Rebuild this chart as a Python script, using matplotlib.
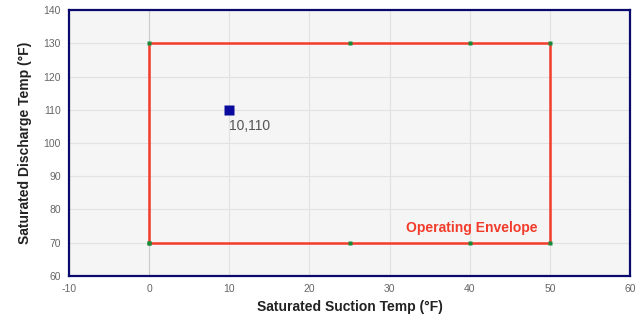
import matplotlib
matplotlib.use('Agg')
import matplotlib.pyplot as plt

# envelope vertices (suction, discharge)
env_x = [0, 0, 25, 40, 50, 50, 40, 25, 0]
env_y = [70, 130, 130, 130, 130, 70, 70, 70, 70]
pt_x = [10]
pt_y = [110]
pt_label = '10,110'
xticks = list(range(-10, 61, 10))
yticks = list(range(60, 141, 10))

plt.rcParams['font.family'] = ['Liberation Sans', 'DejaVu Sans']
plt.rcParams['axes.unicode_minus'] = False

fig = plt.figure(figsize=(6.39, 3.16), dpi=100)
ax = fig.add_axes([0.108, 0.127, 0.878, 0.841])
ax.set_facecolor('#f4f5f4')

ax.set_xlim(-10, 60)
ax.set_ylim(60, 140)
ax.set_xticks(xticks)
ax.set_yticks(yticks)
ax.grid(True, color='#e2e2e2', lw=0.8)
ax.axvline(0, color='#cccccc', lw=0.8, zorder=1)
ax.set_axisbelow(True)
ax.tick_params(length=0, labelsize=7.5, colors='#666666', pad=6)

for s in ax.spines.values():
    s.set_color('#0a0a6e')
    s.set_linewidth(1.6)

ax.plot(env_x, env_y, '-', c='#f23b2a', lw=1.8, zorder=3)
ax.plot(env_x, env_y, 's', ms=2.5, c='#1a8a3a', mec='none', zorder=4)
ax.text(40.2, 74.4, 'Operating Envelope', color='#f23b2a', fontsize=10,
        fontweight='bold', ha='center', va='center')

ax.plot(pt_x, pt_y, 's', ms=7, c='#0a0a9e', mec='none', zorder=5)
ax.text(pt_x[0], pt_y[0] - 2.8, pt_label, color='#555555', fontsize=10,
        ha='left', va='top')

ax.set_xlabel('Saturated Suction Temp (°F)', fontsize=10, fontweight='bold', color='#222222', labelpad=4)
ax.set_ylabel('Saturated Discharge Temp (°F)', fontsize=10, fontweight='bold', color='#222222', labelpad=8)

fig.savefig('out.png', dpi=100)
